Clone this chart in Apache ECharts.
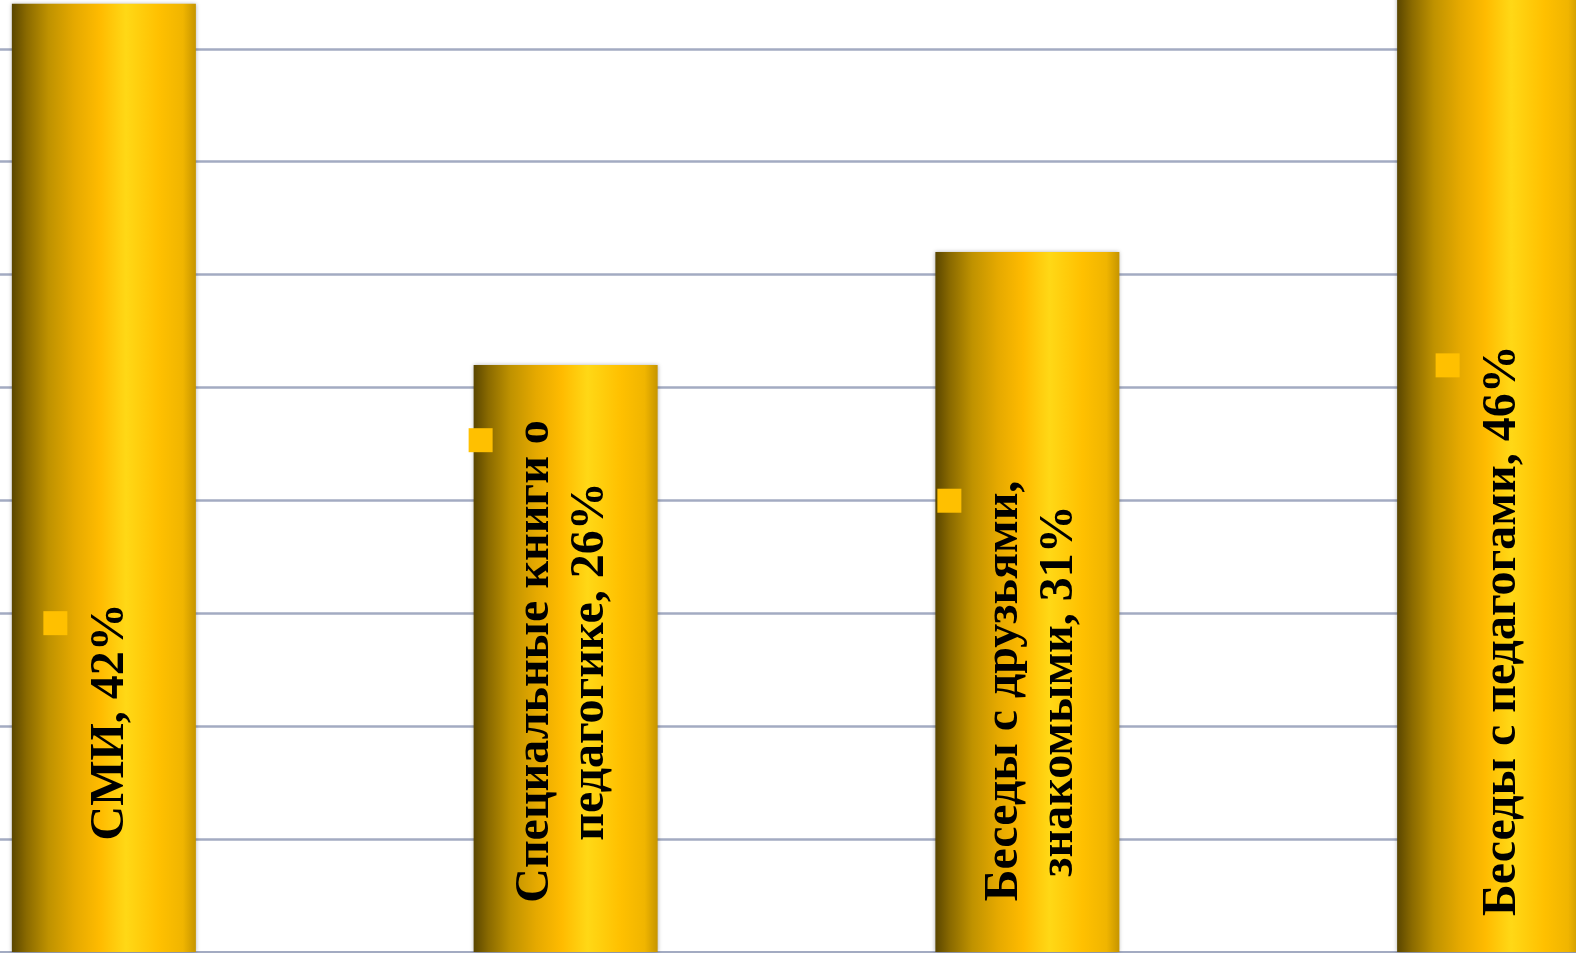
<!DOCTYPE html>
<html>
<head>
<meta charset="utf-8">
<script src="https://cdn.jsdelivr.net/npm/echarts@6/dist/echarts.min.js"></script>
<style>
  html, body { margin: 0; padding: 0; background: #ffffff; overflow: hidden; width: 1576px; height: 953px; position: relative; }
  #chart { position: absolute; left: -127px; top: -177px; width: 1847px; height: 1130px; }
</style>
</head>
<body>
<div id="chart"></div>
<script>
// ---- data ----
const categories = ['СМИ', 'Специальные книги о педагогике', 'Беседы с друзьями, знакомыми', 'Беседы с педагогами'];
const values = [42, 26, 31, 46];
// label text (line breaks as in the original)
const labelNames = ['СМИ', 'Специальные книги о\nпедагогике', 'Беседы с друзьями,\nзнакомыми', 'Беседы с педагогами'];

// ---- layout config (not data): label offsets in the rotated label frame ----
const labelOffsets = [[-244, -21], [-3, -30], [-89, -23], [-198, -14]];

const chart = echarts.init(document.getElementById('chart'), null, { renderer: 'canvas' });

const barGradient = new echarts.graphic.LinearGradient(0, 0, 1, 0, [
  { offset: 0.00, color: '#5a4600' },
  { offset: 0.08, color: '#8a6a00' },
  { offset: 0.20, color: '#bf9200' },
  { offset: 0.34, color: '#e5a900' },
  { offset: 0.48, color: '#ffbb00' },
  { offset: 0.62, color: '#ffd816' },
  { offset: 0.80, color: '#ffc000' },
  { offset: 0.93, color: '#f0b500' },
  { offset: 1.00, color: '#c69500' }
]);

const seriesData = values.map((v, i) => ({
  value: v,
  label: { offset: labelOffsets[i] }
}));

chart.setOption({
  animation: false,
  backgroundColor: '#ffffff',
  grid: { left: 0, right: 0, top: 0, bottom: 1, containLabel: false },
  xAxis: {
    type: 'category',
    data: categories,
    axisLine: { show: true, lineStyle: { color: '#a3abc2', width: 2 } },
    axisTick: { show: false },
    axisLabel: { show: false }
  },
  yAxis: {
    type: 'value',
    min: 0,
    max: 50,
    interval: 5,
    axisLine: { show: false },
    axisTick: { show: false },
    axisLabel: { show: false },
    splitLine: { show: true, lineStyle: { color: '#a3abc2', width: 2.5 } }
  },
  series: [{
    type: 'bar',
    data: seriesData,
    barWidth: 184,
    itemStyle: {
      color: barGradient,
      shadowBlur: 4,
      shadowColor: 'rgba(0,0,0,0.3)'
    },
    label: {
      show: true,
      position: 'inside',
      rotate: 90,
      formatter: function (p) {
        const text = labelNames[p.dataIndex] + ', ' + p.value + '%';
        const lines = text.split('\n').map(l => '{t|' + l + '}');
        return '{sq|}{sp|}\n' + lines.join('\n');
      },
      rich: {
        sq: { width: 24, height: 24, backgroundColor: '#FFC000', lineHeight: 55, align: 'right' },
        sp: { width: 8, height: 24, lineHeight: 55, align: 'right' },
        t: {
          fontFamily: '"Liberation Serif", "Times New Roman", serif',
          fontWeight: 'bold',
          fontSize: 48,
          lineHeight: 55,
          color: '#000000',
          align: 'center'
        }
      }
    }
  }]
});
</script>
</body>
</html>
